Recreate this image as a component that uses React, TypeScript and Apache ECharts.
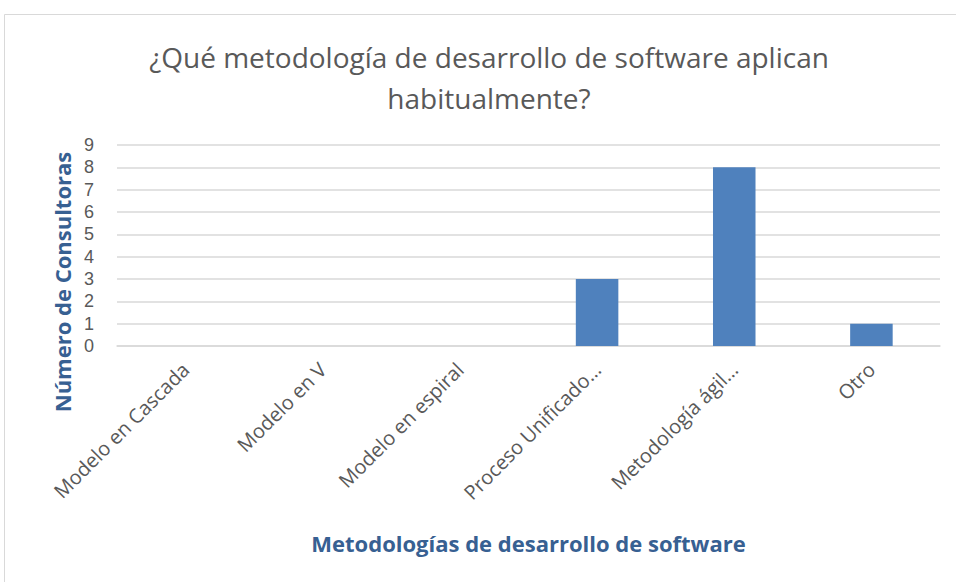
import React, { useEffect, useRef } from "react";
import * as echarts from "echarts";

const titleLines = ["¿Qué metodología de desarrollo de software aplican", "habitualmente?"];
const categories = [
  "Modelo en Cascada",
  "Modelo en V",
  "Modelo en espiral",
  "Proceso Unificado…",
  "Metodología ágil…",
  "Otro",
];
const values = [0, 0, 0, 3, 8, 1];
const yTicks = [0, 1, 2, 3, 4, 5, 6, 7, 8, 9];
const yAxisName = "Número de Consultoras";
const xAxisName = "Metodologías de desarrollo de software";

const FONT = "Open Sans";

export default function App() {
  const ref = useRef<HTMLDivElement>(null);
  useEffect(() => {
    if (!ref.current) return;
    const chart = echarts.init(ref.current, null, { renderer: "svg" });
    chart.setOption({
      animation: false,
      backgroundColor: "#ffffff",
      graphic: [
        {
          type: "rect",
          shape: { x: 4.5, y: 14.5, width: 1000, height: 700 },
          style: { fill: "none", stroke: "#D9D9D9", lineWidth: 1 },
          silent: true,
        },
        {
          type: "text",
          x: 489,
          y: 36,
          style: {
            text: titleLines.join("\n"),
            fill: "#595959",
            font: `28px "${FONT}"`,
            textAlign: "center",
            lineHeight: 41,
          },
        },
        {
          type: "text",
          x: 62,
          y: 282,
          rotation: Math.PI / 2,
          style: {
            text: yAxisName,
            fill: "#376092",
            font: `bold 22px "${FONT}"`,
            textAlign: "center",
            textVerticalAlign: "middle",
          },
        },
      ],
      grid: { left: 117, right: 16, top: 145, bottom: 236 },
      xAxis: {
        type: "category",
        data: categories,
        axisTick: { show: false },
        axisLine: { lineStyle: { color: "#D9D9D9", width: 1.5 } },
        axisLabel: {
          rotate: 45,
          color: "#595959",
          fontFamily: FONT,
          fontSize: 20,
          margin: 20,
          interval: 0,
        },
        name: xAxisName,
        nameLocation: "middle",
        nameGap: 186,
        nameTextStyle: {
          color: "#376092",
          fontFamily: FONT,
          fontWeight: "bold",
          fontSize: 22,
        },
      },
      yAxis: {
        type: "value",
        min: yTicks[0],
        max: yTicks[yTicks.length - 1],
        interval: 1,
        axisLabel: {
          color: "#595959",
          fontFamily: "Liberation Sans",
          fontSize: 18,
          lineHeight: 18,
          margin: 23,
        },
        splitLine: { lineStyle: { color: "#D9D9D9", width: 1.5 } },
        axisLine: { show: false },
        axisTick: { show: false },
      },
      series: [
        {
          type: "bar",
          data: values,
          barWidth: "31%",
          itemStyle: { color: "#4F81BD" },
        },
      ],
    });
    return () => chart.dispose();
  }, []);
  return (
    <div
      ref={ref}
      style={{ position: "fixed", left: 0, top: 0, width: 956, height: 582 }}
    />
  );
}
